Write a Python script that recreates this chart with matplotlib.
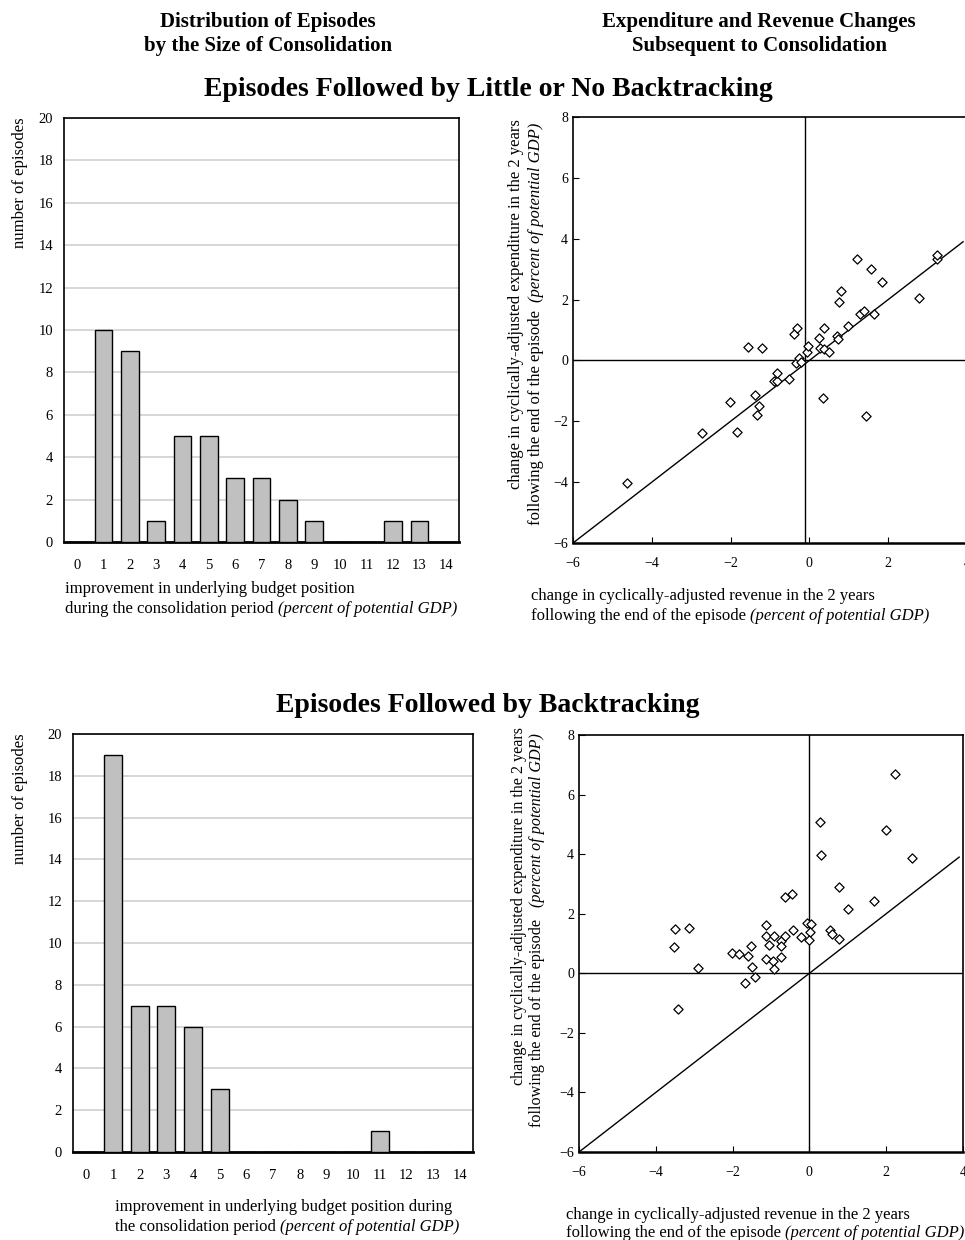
import matplotlib
matplotlib.use("Agg")
import matplotlib.pyplot as plt

# data
sizes = list(range(15))
little_counts = [0, 10, 9, 1, 5, 5, 3, 3, 2, 1, 0, 0, 1, 1, 0]
back_counts = [0, 19, 7, 7, 6, 3, 0, 0, 0, 0, 0, 1, 0, 0, 0]

little_rev = [-4.64, -2.73, -1.84, -2.01, -1.38, -1.34, -1.27, -1.57, -1.20, -0.91,
              -0.82, -0.81, -0.52, -0.39, -0.32, -0.35, -0.26, -0.22, -0.05, -0.03,
              0.24, 0.28, 0.36, 0.38, 0.49, 0.35, 0.69, 0.73, 0.76, 0.79,
              0.98, 1.21, 1.29, 1.39, 1.63, 1.57, 1.44, 1.85, 2.78, 3.23, 3.25]
little_exp = [-4.02, -2.37, -2.36, -1.37, -1.12, -1.79, -1.51, 0.43, 0.42, -0.68,
              -0.69, -0.40, -0.62, 0.88, 1.07, -0.10, 0.07, -0.06, 0.27, 0.47,
              0.75, 0.42, 0.37, 1.08, 0.27, -1.22, 0.79, 0.71, 1.91, 2.29,
              1.13, 3.33, 1.52, 1.64, 1.53, 3.02, -1.84, 2.59, 2.06, 3.33, 3.45]

back_rev = [-3.50, -3.52, -3.14, -2.90, -3.43, -2.02, -1.83, -1.59, -1.52, -1.49,
            -1.68, -1.41, -1.13, -1.14, -1.13, -1.04, -0.92, -0.94, -0.91, -0.74,
            -0.74, -0.74, -0.63, -0.64, -0.45, -0.43, -0.21, -0.07, 0.05, 0.01,
            0.00, 0.27, 0.29, 0.53, 0.59, 0.76, 0.77, 1.00, 1.68, 1.99, 2.22, 2.68]
back_exp = [1.49, 0.87, 1.52, 0.19, -1.19, 0.68, 0.65, 0.59, 0.90, 0.20,
            -0.33, -0.11, 1.62, 1.26, 0.49, 0.94, 1.26, 0.42, 0.14, 1.09,
            0.92, 0.55, 1.25, 2.56, 2.65, 1.46, 1.22, 1.68, 1.67, 1.40,
            1.11, 5.07, 3.96, 1.45, 1.32, 1.16, 2.89, 2.17, 2.42, 4.81, 6.69, 3.88]

diag = [-6, 3.9]

plt.rcParams["font.family"] = "Liberation Serif"

W, H = 965, 1240
fig = plt.figure(figsize=(W / 100, H / 100), dpi=100)
renderer = fig.canvas.get_renderer()


def box(l, t, r, b):
    return [l / W, 1 - b / H, (r - l) / W, (b - t) / H]


def txt(x, y, s, **kw):
    return fig.text(x / W, 1 - y / H, s, **kw)


def mixed(x, y, plain, ital, rot=0, size=12):
    # x, y = start of the line on its baseline (pixels from top-left)
    kw = dict(ha="left", va="baseline", fontsize=size, rotation=rot,
              rotation_mode="anchor")
    t1 = txt(x, y, plain + " ", **kw)
    ext = t1.get_window_extent(renderer)
    if rot == 0:
        txt(x + ext.width, y, ital, style="italic", **kw)
    else:
        txt(x, y - ext.height, ital, style="italic", **kw)


def bar_panel(rect, counts):
    ax = fig.add_axes(rect)
    ax.bar(sizes, counts, width=0.67, color="#c0c0c0", edgecolor="black",
           linewidth=1, zorder=3)
    ax.set_xlim(-0.5, 14.5)
    ax.set_ylim(0, 20)
    ax.set_yticks(range(0, 21, 2))
    ax.set_xticks(sizes)
    ax.yaxis.grid(True, color="#d0d0d0", linewidth=1.2, zorder=0)
    ax.tick_params(axis="both", length=0, labelsize=10.5)
    ax.tick_params(axis="x", pad=12)
    ax.tick_params(axis="y", pad=8)
    for s in ax.spines.values():
        s.set_linewidth(1.2)
    ax.spines["bottom"].set_linewidth(2)
    return ax


def scatter_panel(rect, rev, exp, vx):
    ax = fig.add_axes(rect)
    ax.plot(diag, diag, color="black", linewidth=1, zorder=2)
    ax.axhline(0, color="black", linewidth=1, zorder=2)
    ax.axvline(vx, color="black", linewidth=1, zorder=2)
    ax.scatter(rev, exp, marker="D", s=22, facecolor="white",
               edgecolor="black", linewidth=0.9, zorder=3)
    ax.set_xlim(-6, 4)
    ax.set_ylim(-6, 8)
    ax.set_xticks(range(-6, 5, 2))
    ax.set_yticks(range(-6, 9, 2))
    ax.tick_params(direction="in", length=4, labelsize=10)
    ax.tick_params(axis="x", pad=10)
    for s in ax.spines.values():
        s.set_linewidth(1.2)
    ax.spines["bottom"].set_linewidth(1.8)
    return ax


bar_panel(box(64, 118, 459, 542), little_counts)
scatter_panel(box(573, 117, 967, 543), little_rev, little_exp, -0.1)
bar_panel(box(73, 734, 473, 1152), back_counts)
scatter_panel(box(579, 735, 963, 1152), back_rev, back_exp, 0)

# headers
txt(268, 34, "Distribution of Episodes\nby the Size of Consolidation",
    ha="center", va="center", fontsize=15, fontweight="bold", linespacing=1.2)
txt(759, 34, "Expenditure and Revenue Changes\nSubsequent to Consolidation",
    ha="center", va="center", fontsize=15, fontweight="bold", linespacing=1.2)
txt(488, 90, "Episodes Followed by Little or No Backtracking",
    ha="center", va="center", fontsize=20, fontweight="bold")
txt(488, 705, "Episodes Followed by Backtracking",
    ha="center", va="center", fontsize=20, fontweight="bold")

paren = "(percent of potential GDP)"

# bar chart labels
txt(20, 183, "number of episodes", rotation=90, ha="center", va="center",
    fontsize=12)
txt(20, 799, "number of episodes", rotation=90, ha="center", va="center",
    fontsize=12)
txt(65, 593, "improvement in underlying budget position",
    ha="left", va="baseline", fontsize=12)
mixed(65, 613, "during the consolidation period", paren)
txt(115, 1211, "improvement in underlying budget position during",
    ha="left", va="baseline", fontsize=12)
mixed(115, 1231, "the consolidation period", paren)

# scatter labels
txt(531, 600, "change in cyclically-adjusted revenue in the 2 years",
    ha="left", va="baseline", fontsize=12)
mixed(531, 620, "following the end of the episode", paren)
txt(566, 1219, "change in cyclically-adjusted revenue in the 2 years",
    ha="left", va="baseline", fontsize=12)
mixed(566, 1237, "following the end of the episode", paren)

txt(520, 489, "change in cyclically-adjusted expenditure in the 2 years",
    rotation=90, ha="left", va="baseline", rotation_mode="anchor", fontsize=12)
mixed(540, 525, "following the end of the episode ", paren, rot=90)
txt(523, 1085, "change in cyclically-adjusted expenditure in the 2 years",
    rotation=90, ha="left", va="baseline", rotation_mode="anchor",
    fontsize=11.6)
mixed(541, 1127, "following the end of the episode  ", paren, rot=90,
      size=11.6)

fig.savefig("out.png", dpi=100)
